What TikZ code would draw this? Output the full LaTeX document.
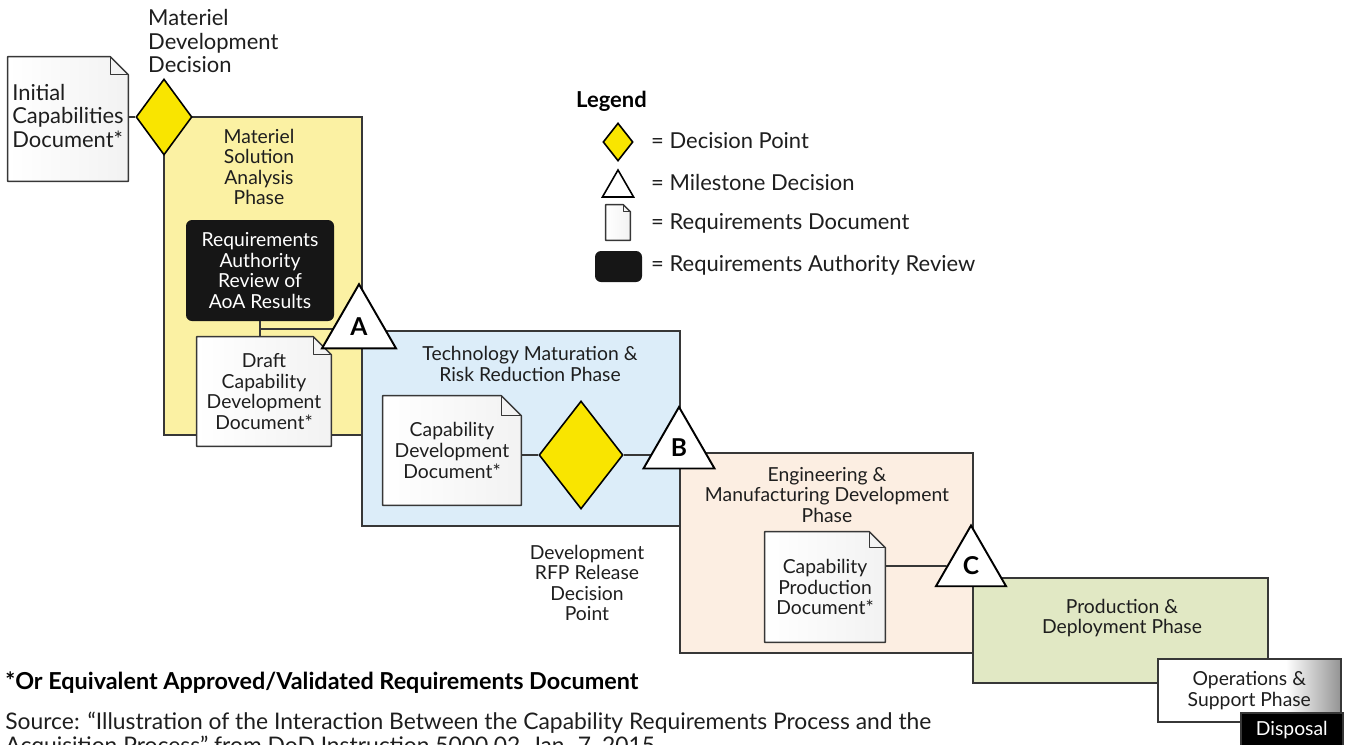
\documentclass[tikz,border=0pt]{standalone}
\usepackage{fontspec}
\setmainfont{Lato}
\usetikzlibrary{shapes.geometric, calc, positioning}

\definecolor{msafill}{RGB}{251,241,163}
\definecolor{tmrrfill}{RGB}{220,237,249}
\definecolor{emdfill}{RGB}{252,238,226}
\definecolor{pdfill}{RGB}{225,232,196}
\definecolor{decyellow}{RGB}{249,229,0}
\definecolor{raink}{RGB}{22,22,22}
\definecolor{edgegrey}{RGB}{55,55,55}
\definecolor{inkgrey}{RGB}{30,30,30}

% white box running into grey at its right end
\pgfdeclarehorizontalshading{osfade}{100bp}{color(0bp)=(white); color(60bp)=(white); color(75bp)=(black!42); color(100bp)=(black!42)}

\pgfdeclarelayer{front}
\pgfsetlayers{main,front}

\begin{document}
\begin{tikzpicture}[x=0.2mm, y=-0.2mm,
  phase/.style={draw=edgegrey, line width=0.9pt, anchor=north west, inner sep=0},
  phasetitle/.style={align=center, text=inkgrey, font=\fontsize{11}{11.7}\selectfont},
  bigtext/.style={align=left, text=inkgrey, font=\fontsize{12.5}{13.3}\selectfont},
  keytext/.style={anchor=west, text=inkgrey, font=\fontsize{12.5}{13.3}\selectfont},
  reqdoc/.style={inner sep=0, align=center, text=inkgrey, font=\fontsize{11}{11.9}\selectfont},
  docline/.style={draw=edgegrey, line width=0.8pt, line join=round},
  docshade/.style={docline, left color=white, right color=black!5},
  decision/.style={diamond, draw=black, line width=0.9pt, fill=decyellow, inner sep=0},
  milestone/.style={regular polygon, regular polygon sides=3, draw=black, line width=1.1pt, fill=white, inner sep=0, text=black, font=\fontsize{14}{14}\selectfont\bfseries},
  review/.style={fill=raink, rounded corners=1.2mm, inner sep=0, align=center, text=white, font=\fontsize{11}{11.7}\selectfont},
  link/.style={draw=edgegrey, line width=0.9pt}
]
  \useasboundingbox (0,0) rectangle (1347,744);

  % phase boxes, stepping down to the right
  \node[phase, fill=msafill, minimum width=39.6mm, minimum height=63.6mm] (msa) at (163,116) {};
  \node[phase, fill=tmrrfill, minimum width=63.6mm, minimum height=39mm] (tmrr) at (361,330) {};
  \node[phase, fill=emdfill, minimum width=58.6mm, minimum height=40mm] (emd) at (679,452) {};
  \node[phase, fill=pdfill, minimum width=59mm, minimum height=21mm] (pd) at (972,577) {};
  \node[phase, shade, shading=osfade, minimum width=36.6mm, minimum height=12.6mm, phasetitle] (os) at (1157,658) {Operations \&\\Support Phase};
  \node[phase, fill=black, minimum width=20.4mm, minimum height=7mm, phasetitle, text=white] (disp) at (1240,712) {Disposal};

  % phase titles
  \node[phasetitle] (msat) at (259,167) {Materiel\\Solution\\Analysis\\Phase};
  \node[phasetitle] (tmrrt) at (530,364) {Technology Maturation \&\\Risk Reduction Phase};
  \node[phasetitle] (emdt) at (827,495) {Engineering \&\\Manufacturing Development\\Phase};
  \node[phasetitle] (pdt) at (1122,618) {Production \&\\Deployment Phase};
  \node[phasetitle] (drfpt) at (587,583) {Development\\RFP Release\\Decision\\Point};
  \node[bigtext, anchor=west] (mddt) at (142,41) {Materiel\\Development\\Decision};

  % requirements authority review
  \node[review, minimum width=29.6mm, minimum height=20.2mm] (rar) at (260,270.5) {Requirements\\Authority\\Review of\\AoA Results};

  % decision points, milestones and document texts sit on top
  \begin{pgfonlayer}{front}
    \node[decision, minimum width=11.2mm, minimum height=15.2mm] (mdd) at (164,117) {};
    \node[decision, minimum width=16.8mm, minimum height=21.6mm] (drfp) at (581,455) {};
    \node[milestone, minimum size=17.1mm] (msA) at (359,327) {A};
    \node[milestone, minimum size=16.4mm] (msB) at (679,448) {B};
    \node[milestone, minimum size=16.2mm] (msC) at (971,566) {C};

    \node[reqdoc, bigtext, minimum width=24mm, minimum height=24.8mm] (icd) at (68,119) {\raisebox{0.6mm}{\begin{tabular}{@{}l@{}}Initial\\Capabilities\\Document*\end{tabular}}};
    \node[reqdoc, minimum width=26.8mm, minimum height=21.8mm] (dcdd) at (264,391.5) {Draft\\Capability\\Development\\Document*};
    \node[reqdoc, minimum width=27.6mm, minimum height=21.8mm] (cdd) at (452,450.5) {Capability\\Development\\Document*};
    \node[reqdoc, minimum width=24mm, minimum height=22mm] (cpd) at (825,587) {Capability\\Production\\Document*};
  \end{pgfonlayer}

  % legend
  \node[font=\fontsize{12.5}{13.3}\selectfont\bfseries, anchor=west, text=black] (keyhead) at (570,101) {Legend};
  \node[decision, minimum width=6mm, minimum height=7.6mm] (keydec) at (618,142) {};
  \node[milestone, line width=0.9pt, minimum size=7.2mm] (keyms) at (618,188) {};
  \node[inner sep=0, minimum width=4.8mm, minimum height=7mm] (keydoc) at (618,222.5) {};
  \node[review, minimum width=9.4mm, minimum height=6.2mm] (keyrev) at (618.5,266.5) {};
  \node[keytext] (keydect) at (645,141) {= Decision Point};
  \node[keytext] (keymst) at (645,182) {= Milestone Decision};
  \node[keytext] (keydoct) at (645,223) {= Requirements Document};
  \node[keytext] (keyrevt) at (645,265) {= Requirements Authority Review};

  % dog-eared pages behind the document texts
  \foreach \d/\f in {icd/3.6mm, dcdd/3.6mm, cdd/4mm, cpd/3.2mm, keydoc/1.4mm} {
    \draw[docshade] (\d.south west) -- (\d.north west) -- ([xshift=-\f]\d.north east)
      -- ([yshift=-\f]\d.north east) -- (\d.south east) -- cycle;
    \draw[docline] ([xshift=-\f]\d.north east) |- ([yshift=-\f]\d.north east);
  }

  % connectors
  \coordinate (tee) at ($(rar.south)!0.5!(rar.south |- dcdd.north)$);
  \draw[link] (mdd.west -| icd.east) -- (mdd.west);
  \draw[link] (rar.south) -- (rar.south |- dcdd.north);
  \draw[link] (tee) -- (tee -| msA);
  \draw[link] (drfp.west -| cdd.east) -- (drfp.west);
  \draw[link] (drfp.east) -- (drfp.east -| msB);
  \draw[link] (msC -| cpd.east) -- (msC);

  % footnote and source
  \node[font=\fontsize{13.3}{14}\selectfont\bfseries, anchor=west, inner sep=0, text=black] (note) at (5,683) {*Or Equivalent Approved/Validated Requirements Document};
  \node[font=\fontsize{13}{13.6}\selectfont, anchor=north west, align=left, inner sep=0, text=inkgrey] (src) at (5,712) {Source: “Illustration of the Interaction Between the Capability Requirements Process and the\\Acquisition Process” from DoD Instruction 5000.02, Jan. 7, 2015};

\end{tikzpicture}
\end{document}
